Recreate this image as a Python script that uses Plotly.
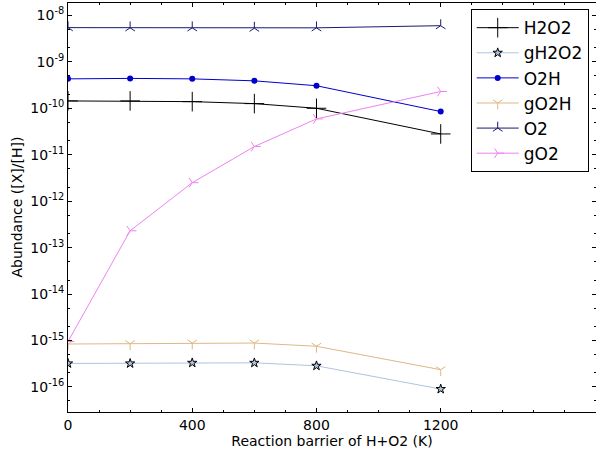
import plotly.graph_objects as go

barrier = [0, 200, 400, 600, 800, 1200]

H2O2 = [1.44e-10, 1.44e-10, 1.39e-10, 1.26e-10, 1.0e-10, 2.8e-11]
gH2O2 = [3.2e-16, 3.2e-16, 3.3e-16, 3.3e-16, 2.85e-16, 9.0e-17]
O2H = [4.3e-10, 4.4e-10, 4.3e-10, 3.9e-10, 3.06e-10, 8.5e-11]
gO2H = [8.4e-16, 8.5e-16, 8.8e-16, 8.8e-16, 7.5e-16, 2.35e-16]
O2 = [5.45e-9, 5.4e-9, 5.4e-9, 5.3e-9, 5.4e-9, 6.0e-9]
gO2 = [9.5e-16, 2.3e-13, 2.5e-12, 1.5e-11, 5.9e-11, 2.3e-10]

x_tickvals = [0, 400, 800, 1200]
x_ticktext = ["0", "400", "800", "1200"]

y_exponents = [-16, -15, -14, -13, -12, -11, -10, -9, -8]
y_tickvals = [10.0 ** e for e in y_exponents]
y_ticktext = ["10<sup>%d</sup>" % e for e in y_exponents]

FONT = "DejaVu Sans"

series = [
    ("H2O2", H2O2, "black", dict(symbol="cross-thin", size=14, line=dict(color="black", width=1))),
    ("gH2O2", gH2O2, "lightsteelblue", dict(symbol="star", size=7, color="lightsteelblue", line=dict(color="black", width=1))),
    ("O2H", O2H, "mediumblue", dict(symbol="circle", size=6, color="mediumblue", line=dict(width=0))),
    ("gO2H", gO2H, "burlywood", dict(symbol="y-down", size=8, line=dict(color="burlywood", width=1))),
    ("O2", O2, "midnightblue", dict(symbol="y-up", size=8, line=dict(color="midnightblue", width=1))),
    ("gO2", gO2, "violet", dict(symbol="y-right", size=8, line=dict(color="violet", width=1))),
]

fig = go.Figure()
for name, vals, col, mk in series:
    fig.add_trace(go.Scatter(
        x=barrier, y=vals, name=name, mode="lines+markers",
        line=dict(color=col, width=1), marker=mk,
    ))

fig.update_layout(
    width=596, height=455,
    margin=dict(l=68, r=0, t=3, b=43),
    paper_bgcolor="white", plot_bgcolor="white",
    font=dict(family=FONT, size=14, color="black"),
    showlegend=True,
    legend=dict(
        x=0.7627, y=0.985, xanchor="left", yanchor="top",
        bordercolor="black", borderwidth=1, bgcolor="white",
        font=dict(family=FONT, size=17, color="black"),
        tracegroupgap=0, itemwidth=42,
    ),
    xaxis=dict(
        range=[0, 1700],
        tickmode="array", tickvals=x_tickvals, ticktext=x_ticktext,
        ticks="inside", ticklen=4, tickcolor="black",
        showline=True, linecolor="black", linewidth=1, mirror="ticks",
        showgrid=False, zeroline=False,
        minor=dict(dtick=100, tick0=0, ticks="inside", ticklen=2, tickcolor="black", showgrid=False),
        title=dict(text="Reaction barrier of H+O2 (K)", font=dict(size=14), standoff=2),
        tickfont=dict(size=14),
    ),
    yaxis=dict(
        type="log", range=[-16.54, -7.733],
        tickmode="array", tickvals=y_tickvals, ticktext=y_ticktext,
        ticks="inside", ticklen=4, tickcolor="black",
        showline=True, linecolor="black", linewidth=1, mirror="ticks",
        showgrid=False, zeroline=False,
        minor=dict(ticks="inside", ticklen=2, tickcolor="black", showgrid=False),
        tickfont=dict(size=14),
    ),
    annotations=[dict(
        text="Abundance ([X]/[H])", xref="paper", yref="paper",
        x=0, y=0.5, xanchor="center", yanchor="middle", xshift=-52,
        textangle=-90, showarrow=False, font=dict(size=14, family=FONT),
    )],
)

fig.write_html("out.html")
